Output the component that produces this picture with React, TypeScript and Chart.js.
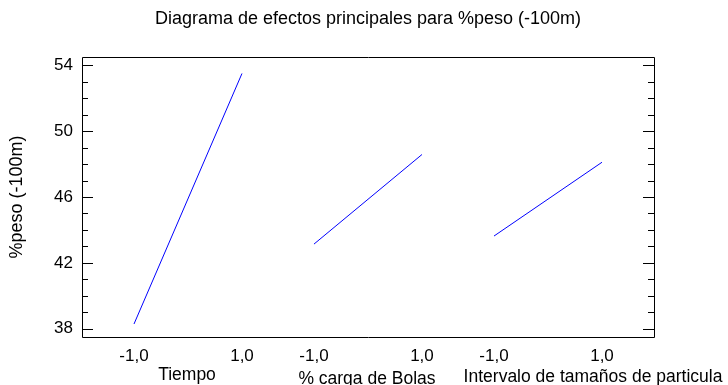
import React, { useEffect, useRef } from "react";
import { Chart, registerables } from "chart.js";

Chart.register(...registerables);

const titleText = "Diagrama de efectos principales para %peso (-100m)";
const yAxisTitle = "%peso (-100m)";
const factors = ["Tiempo", "% carga de Bolas", "Intervalo de tamaños de particula"];
const factorOffsets = [0, 3.333, 6.667];
const levels = [-1, 1];
const levelLabels = ["-1,0", "1,0"];
const tiempoValues = [38.29, 53.5];
const cargaValues = [43.14, 48.58];
const intervaloValues = [43.63, 48.11];
const yTicks = [38, 42, 46, 50, 54];
const yMin = 37.5;
const yMax = 54.5;
const xMin = -1.963;
const xMax = 8.63;
const factorLabelDy = [0, 4, 2];
const factorLabelDx = [-1, -1, 45];

const FONT = "'Liberation Sans', Arial, sans-serif";

export default function App() {
  const ref = useRef<HTMLCanvasElement | null>(null);

  useEffect(() => {
    if (!ref.current) return;
    const seriesValues = [tiempoValues, cargaValues, intervaloValues];
    const datasets = seriesValues.map((vals, i) => ({
      label: factors[i],
      data: levels.map((lv, j) => ({ x: factorOffsets[i] + lv, y: vals[j] })),
      borderColor: "#0000ff",
      backgroundColor: "#0000ff",
      borderWidth: 1,
      pointRadius: 0,
      showLine: true,
      fill: false,
    }));

    const tickPositions: number[] = [];
    factorOffsets.forEach((o) => levels.forEach((l) => tickPositions.push(o + l)));

    const framePlugin = {
      id: "frame",
      afterDraw(chart: any) {
        const { ctx, chartArea } = chart;
        const ys = chart.scales.y;
        const xs = chart.scales.x;
        ctx.save();
        ctx.strokeStyle = "#000";
        ctx.lineWidth = 1;
        ctx.beginPath();
        ctx.rect(Math.round(chartArea.left) + 0.5, Math.round(chartArea.top) + 0.5,
          Math.round(chartArea.right - chartArea.left), Math.round(chartArea.bottom - chartArea.top));
        ctx.stroke();
        for (let v = Math.ceil(yMin); v <= Math.floor(yMax); v++) {
          const major = yTicks.includes(v);
          const len = major ? 11 : 6;
          const py = Math.round(ys.getPixelForValue(v)) + 0.5;
          ctx.beginPath();
          ctx.moveTo(chartArea.left, py);
          ctx.lineTo(chartArea.left + len, py);
          ctx.moveTo(chartArea.right, py);
          ctx.lineTo(chartArea.right - len, py);
          ctx.stroke();
        }
        ctx.fillStyle = "#000";
        ctx.font = `17.5px ${FONT}`;
        ctx.textAlign = "center";
        ctx.textBaseline = "middle";
        factors.forEach((f, i) => {
          const cx = xs.getPixelForValue(factorOffsets[i]) + factorLabelDx[i];
          ctx.fillText(f, cx, 375 + factorLabelDy[i]);
        });
        ctx.restore();
      },
    };

    const chart = new Chart(ref.current, {
      type: "scatter",
      data: { datasets },
      plugins: [framePlugin],
      options: {
        animation: false,
        responsive: false,
        maintainAspectRatio: false,
        layout: { padding: { left: 0, right: 74, top: 0, bottom: 0 } },
        plugins: {
          legend: { display: false },
          tooltip: { enabled: false },
          title: {
            display: true,
            text: titleText,
            fullSize: false,
            color: "#000",
            font: { family: FONT, size: 18, weight: "normal" },
            padding: { top: 8, bottom: 27.4 },
          },
        },
        scales: {
          x: {
            type: "linear",
            min: xMin,
            max: xMax,
            grid: { display: false, drawTicks: false },
            border: { display: false },
            afterBuildTicks: (scale: any) => {
              scale.ticks = tickPositions.map((v) => ({ value: v }));
            },
            afterFit: (scale: any) => {
              scale.height = 48;
            },
            ticks: {
              autoSkip: false,
              maxRotation: 0,
              padding: 9,
              color: "#000",
              font: { family: FONT, size: 17 },
              callback: (val: any) => {
                const v = Number(val);
                const idx = tickPositions.findIndex((t) => Math.abs(t - v) < 1e-6);
                return idx >= 0 ? levelLabels[idx % 2] : "";
              },
            },
          },
          y: {
            type: "linear",
            min: yMin,
            max: yMax,
            grid: { display: false, drawTicks: false },
            border: { display: false },
            afterBuildTicks: (scale: any) => {
              scale.ticks = yTicks.map((v) => ({ value: v }));
            },
            afterFit: (scale: any) => {
              scale.width = 82;
            },
            title: {
              display: true,
              text: yAxisTitle,
              color: "#000",
              font: { family: FONT, size: 18 },
              padding: { top: 6, bottom: 0 },
            },
            ticks: {
              padding: 9,
              color: "#000",
              font: { family: FONT, size: 17 },
              callback: (val: any) => String(val),
            },
          },
        },
      },
    });
    return () => chart.destroy();
  }, []);

  return (
    <div style={{ position: "fixed", left: 0, top: 0, width: 728, height: 385, background: "#fff" }}>
      <canvas ref={ref} width={728} height={385} style={{ display: "block", width: 728, height: 385 }} />
    </div>
  );
}
